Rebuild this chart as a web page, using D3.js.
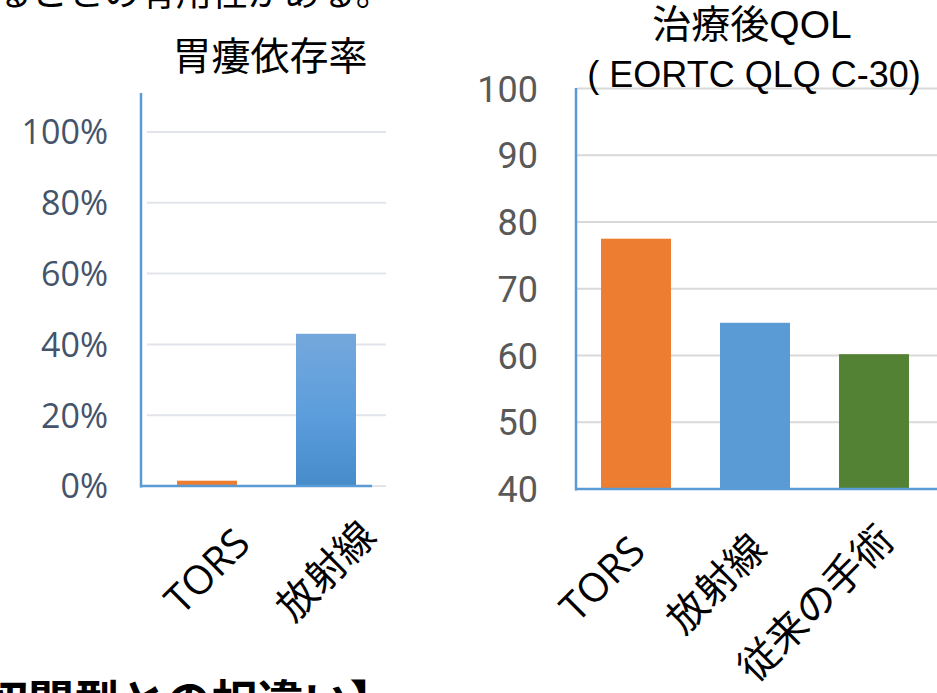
<!DOCTYPE html>
<html>
<head>
<meta charset="utf-8">
<script src="https://cdn.jsdelivr.net/npm/d3@7"></script>
<style>
  html, body { margin: 0; padding: 0; background: #ffffff; }
  svg { display: block; }
</style>
</head>
<body>
<svg id="chart" width="937" height="693"></svg>
<script>
// Left panel: gastrostomy dependence rate
const tubeCategories = ["TORS", "放射線"];
const tubeValues = [0.015, 0.43];
const tubeTicks = [0, 0.2, 0.4, 0.6, 0.8, 1.0];
const tubeTickLabels = ["0%", "20%", "40%", "60%", "80%", "100%"];

// Right panel: post-treatment QOL (EORTC QLQ C-30)
const qolCategories = ["TORS", "放射線", "従来の手術"];
const qolValues = [77.5, 64.9, 60.2];
const qolColors = ["#ed7d31", "#5b9bd5", "#548235"];
const qolTicks = [40, 50, 60, 70, 80, 90, 100];

// Slide text running past the edges
const slideTopText = "ることの有用性がある。";
const slideBottomText = "切開型との相違い】";

const svg = d3.select("#chart");
const jpFont = "'Noto Sans CJK JP', 'Noto Sans', sans-serif";
const latinJp = "'Open Sans', 'Noto Sans CJK JP', sans-serif";
const arialJp = "'Liberation Sans', 'Noto Sans CJK JP', sans-serif";
const axisBlue = "#5b9bd5";
const labelSize = 40;

// ---- slide text fragments ----
svg.append("text")
  .attr("x", -4).attr("y", 6)
  .attr("font-family", jpFont).attr("font-size", 36)
  .attr("fill", "#000").text(slideTopText);

svg.append("text")
  .attr("x", -18).attr("y", 718)
  .attr("font-family", jpFont).attr("font-size", 46).attr("font-weight", 700)
  .attr("fill", "#000").text(slideBottomText);

// ---- left panel ----
{
  const x = d3.scaleBand().domain(tubeCategories)
    .range([147.5, 385.5]).paddingInner(0.496).paddingOuter(0.248);
  const y = d3.scaleLinear().domain([0, 1]).range([486, 132]);
  const g = svg.append("g");

  const defs = svg.append("defs");
  const grad = defs.append("linearGradient")
    .attr("id", "tubeBlue").attr("x1", 0).attr("y1", 0).attr("x2", 0).attr("y2", 1);
  grad.append("stop").attr("offset", "0%").attr("stop-color", "#74a8dc");
  grad.append("stop").attr("offset", "55%").attr("stop-color", "#5b9ddc");
  grad.append("stop").attr("offset", "100%").attr("stop-color", "#468bca");

  // gridlines
  g.append("g").selectAll("line").data(tubeTicks).join("line")
    .attr("x1", 147).attr("x2", 386)
    .attr("y1", d => y(d)).attr("y2", d => y(d))
    .attr("stroke", "#e1e5eb").attr("stroke-width", 2);

  // bars
  g.append("g").selectAll("rect").data(tubeValues).join("rect")
    .attr("x", (d, i) => x(tubeCategories[i]))
    .attr("width", x.bandwidth())
    .attr("y", d => y(d))
    .attr("height", d => y(0) - y(d))
    .attr("fill", (d, i) => i === 0 ? "#ed7d31" : "url(#tubeBlue)");

  // axis lines
  g.append("line").attr("x1", 141).attr("x2", 141).attr("y1", 93).attr("y2", y(0) + 1.5)
    .attr("stroke", axisBlue).attr("stroke-width", 2.5);
  g.append("line").attr("x1", 140).attr("x2", 372).attr("y1", y(0)).attr("y2", y(0))
    .attr("stroke", axisBlue).attr("stroke-width", 2.5);

  // y tick labels
  const yAxis = d3.axisLeft(y).tickValues(tubeTicks)
    .tickFormat((d, i) => tubeTickLabels[i]).tickSize(0).tickPadding(0);
  const ya = g.append("g").attr("transform", "translate(108,0)").call(yAxis);
  ya.select(".domain").remove();
  ya.selectAll("text")
    .attr("font-family", "'Open Sans', sans-serif").attr("font-size", 34)
    .attr("fill", "#44546a").attr("dy", "0.35em");

  // category labels, rotated and centred under each bar
  g.append("g").selectAll("text").data(tubeCategories).join("text")
    .attr("transform", d => `translate(${x(d) + x.bandwidth() / 2 - 1},570) rotate(-45)`)
    .attr("text-anchor", "middle").attr("dominant-baseline", "central")
    .attr("font-family", latinJp).attr("font-size", labelSize)
    .attr("fill", "#000").text(d => d);

  // title
  g.append("text").attr("x", 270).attr("y", 70).attr("text-anchor", "middle")
    .attr("font-family", jpFont).attr("font-size", 39).attr("fill", "#000")
    .text("胃瘻依存率");
}

// ---- right panel ----
{
  const x = d3.scaleBand().domain(qolCategories)
    .range([576.5, 933.5]).paddingInner(0.412).paddingOuter(0.206);
  const y = d3.scaleLinear().domain([40, 100]).range([489, 88.5]);
  const g = svg.append("g");

  g.append("g").selectAll("line").data(qolTicks.slice(1)).join("line")
    .attr("x1", 577).attr("x2", 937)
    .attr("y1", d => y(d)).attr("y2", d => y(d))
    .attr("stroke", "#d9d9d9").attr("stroke-width", 2);

  g.append("g").selectAll("rect").data(qolValues).join("rect")
    .attr("x", (d, i) => x(qolCategories[i]))
    .attr("width", x.bandwidth())
    .attr("y", d => y(d))
    .attr("height", d => y(40) - y(d))
    .attr("fill", (d, i) => qolColors[i]);

  g.append("line").attr("x1", 576).attr("x2", 576).attr("y1", 88).attr("y2", y(40) + 1.5)
    .attr("stroke", axisBlue).attr("stroke-width", 2.5);
  g.append("line").attr("x1", 575).attr("x2", 937).attr("y1", y(40)).attr("y2", y(40))
    .attr("stroke", axisBlue).attr("stroke-width", 2.5);

  const yAxis = d3.axisLeft(y).tickValues(qolTicks).tickSize(0).tickPadding(0);
  const ya = g.append("g").attr("transform", "translate(538,0)").call(yAxis);
  ya.select(".domain").remove();
  ya.selectAll("text")
    .attr("font-family", "Roboto, sans-serif").attr("font-size", 36)
    .attr("fill", "#595959").attr("dy", "0.35em");

  // category labels: pivot a little back from each label's end
  const labels = g.append("g").selectAll("text").data(qolCategories).join("text")
    .attr("transform", d => `translate(${x(d) + x.bandwidth() / 2 - 10},553) rotate(-45)`)
    .attr("text-anchor", "end").attr("dominant-baseline", "central")
    .attr("font-family", latinJp).attr("font-size", labelSize)
    .attr("fill", "#000").text(d => d);
  labels.attr("x", function () { return this.getComputedTextLength() * 0.15; });

  g.append("text").attr("x", 752).attr("y", 38).attr("text-anchor", "middle")
    .attr("font-family", arialJp).attr("font-size", 39).attr("fill", "#000")
    .text("治療後QOL");
  g.append("text").attr("x", 754).attr("y", 87).attr("text-anchor", "middle")
    .attr("font-family", "'Liberation Sans', Arial, sans-serif").attr("font-size", 36).attr("fill", "#000")
    .text("( EORTC QLQ C-30)");
}
</script>
</body>
</html>
